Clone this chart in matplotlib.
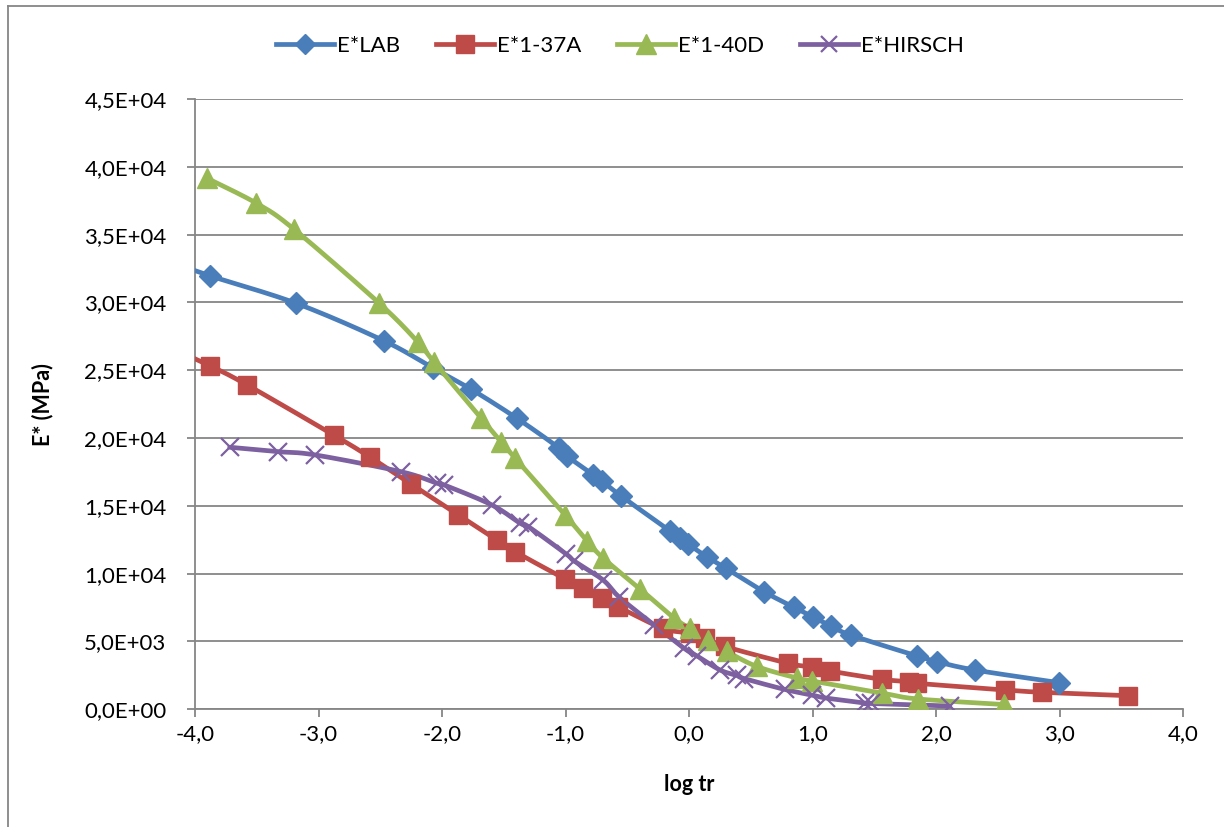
import numpy as np
import matplotlib
matplotlib.use("Agg")
import matplotlib.pyplot as plt
from matplotlib.lines import Line2D

plt.rcParams['font.family'] = ['Lato', 'DejaVu Sans']

# ---------------- data ----------------
lab_x = [-4.40, -3.875, -3.182, -2.473, -2.069, -1.764, -1.394, -1.049, -0.989, -0.774, -0.706,
         -0.553, -0.154, -0.073, -0.008, 0.143, 0.299, 0.607, 0.850, 1.001, 1.149, 1.308,
         1.847, 2.009, 2.314, 2.998]
lab_y = [33600, 31954, 29941, 27183, 25147, 23599, 21460, 19248, 18680, 17279, 16836,
         15752, 13149, 12633, 12190, 11254, 10398, 8673, 7522, 6829, 6143, 5479,
         3931, 3510, 2898, 1962]

a37_x = [-4.25, -3.875, -3.578, -2.878, -2.581, -2.252, -1.867, -1.556, -1.408, -1.003, -0.855,
         -0.706, -0.578, -0.208, 0.008, 0.129, 0.291, 0.803, 0.993, 1.141, 1.561, 1.782,
         1.845, 2.557, 2.862, 3.554]
a37_y = [26900, 25317, 23916, 20229, 18584, 16615, 14329, 12485, 11622, 9609, 8923,
         8186, 7566, 5959, 5627, 5258, 4631, 3392, 3119, 2825, 2212, 2035,
         1917, 1423, 1254, 1003]

d40_x = [-3.903, -3.503, -3.201, -2.508, -2.198, -2.063, -1.683, -1.523, -1.408, -1.003, -0.825,
         -0.696, -0.396, -0.121, 0.008, 0.154, 0.307, 0.550, 0.874, 0.995, 1.559, 1.855, 2.549]
d40_y = [39159, 37316, 35420, 29941, 27109, 25590, 21460, 19735, 18510, 14329, 12411,
         11158, 8872, 6733, 5959, 5111, 4263, 3156, 2308, 2087, 1202, 760, 354]

hir_x = [-3.719, -3.331, -3.026, -2.332, -2.041, -1.982, -1.596, -1.367, -1.300, -0.995, -0.930,
         -0.696, -0.566, -0.283, -0.040, 0.065, 0.251, 0.388, 0.445, 0.777, 0.995, 1.108,
         1.424, 1.472, 2.112]
hir_y = [19322, 18997, 18754, 17522, 16667, 16541, 15066, 13717, 13466, 11453, 10937,
         9535, 8282, 6217, 4499, 3931, 2898, 2493, 2271, 1460, 1055, 833,
         465, 428, 243]

series_names = ['E*LAB', 'E*1-37A', 'E*1-40D', 'E*HIRSCH']
x_ticks = [-4.0, -3.0, -2.0, -1.0, 0.0, 1.0, 2.0, 3.0, 4.0]
y_ticks = [0, 5000, 10000, 15000, 20000, 25000, 30000, 35000, 40000, 45000]

# -------------- helpers ---------------
def smooth(xs, ys, n=24):
    """Excel-like smoothed line (Catmull-Rom as cubic Bezier)."""
    P = np.column_stack([xs, ys]).astype(float)
    out = [P[0]]
    t = np.linspace(0, 1, n)[1:, None]
    for i in range(len(P) - 1):
        p0 = P[i - 1] if i > 0 else P[i]
        p1 = P[i]
        p2 = P[i + 1]
        p3 = P[i + 2] if i + 2 < len(P) else P[i + 1]
        c1 = p1 + (p2 - p0) / 6.0
        c2 = p2 - (p3 - p1) / 6.0
        seg = ((1 - t) ** 3) * p1 + 3 * ((1 - t) ** 2) * t * c1 + 3 * (1 - t) * t ** 2 * c2 + t ** 3 * p2
        out.extend(seg)
    out = np.array(out)
    return out[:, 0], out[:, 1]

# -------------- figure ----------------
W, H = 1224, 827
fig = plt.figure(figsize=(W / 100, H / 100), dpi=100)
ax = fig.add_axes([195 / W, 1 - 709.3 / H, (1183 - 195) / W, (709.3 - 99) / H])

grid_c = '#868686'
styles = [
    dict(color='#4A7EBB', marker='D', ms=11, mec='#4A7EBB', mfc='#4A7EBB', mew=1),
    dict(color='#BE4B48', marker='s', ms=13.5, mec='#BE4B48', mfc='#BE4B48', mew=1),
    dict(color='#98B954', marker='^', ms=14.5, mec='#98B954', mfc='#98B954', mew=1),
    dict(color='#7D60A0', marker='x', ms=12.5, mec='#7D60A0', mfc='#7D60A0', mew=1.6),
]
data = [(lab_x, lab_y), (a37_x, a37_y), (d40_x, d40_y), (hir_x, hir_y)]

handles = []
for (xs, ys), st, name in zip(data, styles, series_names):
    sx, sy = smooth(xs, ys)
    ax.plot(sx, sy, color=st['color'], lw=3.4, solid_capstyle='round', zorder=3)
    ax.plot(xs, ys, ls='none', marker=st['marker'], ms=st['ms'], mec=st['mec'],
            mfc=st['mfc'], mew=st['mew'], zorder=4)
    handles.append(Line2D([], [], color=st['color'], lw=3.4, marker=st['marker'],
                          ms=st['ms'] * 0.95, mec=st['mec'], mfc=st['mfc'], mew=st['mew'],
                          label=name))

ax.set_xlim(-4, 4)
ax.set_ylim(0, 45000)
ax.set_xticks(x_ticks)
ax.set_yticks(y_ticks)
ax.set_xticklabels([f"{v:.1f}".replace('.', ',') if abs(v) > 1e-9 else "0,0" for v in x_ticks])
ax.set_yticklabels([f"{v:.1E}".replace('.', ',') for v in y_ticks])
ax.yaxis.grid(True, color=grid_c, lw=1.3)
ax.set_axisbelow(True)
for s in ['top', 'right']:
    ax.spines[s].set_visible(False)
for s in ['left', 'bottom']:
    ax.spines[s].set_color(grid_c)
    ax.spines[s].set_linewidth(1.3)
ax.tick_params(axis='both', direction='out', length=5.5, width=1.3, color=grid_c,
               labelsize=16, labelcolor='black')
ax.tick_params(axis='y', pad=15)
ax.tick_params(axis='x', pad=5)

ax.set_xlabel('log tr', fontsize=15.5, fontweight='bold', labelpad=22)
ax.set_ylabel('E* (MPa)', fontsize=15.5, fontweight='bold', labelpad=22)

fig.legend(handles=handles, loc='center', bbox_to_anchor=(620 / W, 1 - 46 / H), ncol=4,
           frameon=False, fontsize=16, handlelength=2.6, columnspacing=1.6, handletextpad=0.15,
           numpoints=1)

# outer chart frame
fig.add_artist(Line2D([8 / W, 8 / W], [0, 1 - 6 / H], color=grid_c, lw=1.3, transform=fig.transFigure))
fig.add_artist(Line2D([8 / W, 1], [1 - 6 / H, 1 - 6 / H], color=grid_c, lw=1.3, transform=fig.transFigure))

fig.savefig('out.png', dpi=100)
